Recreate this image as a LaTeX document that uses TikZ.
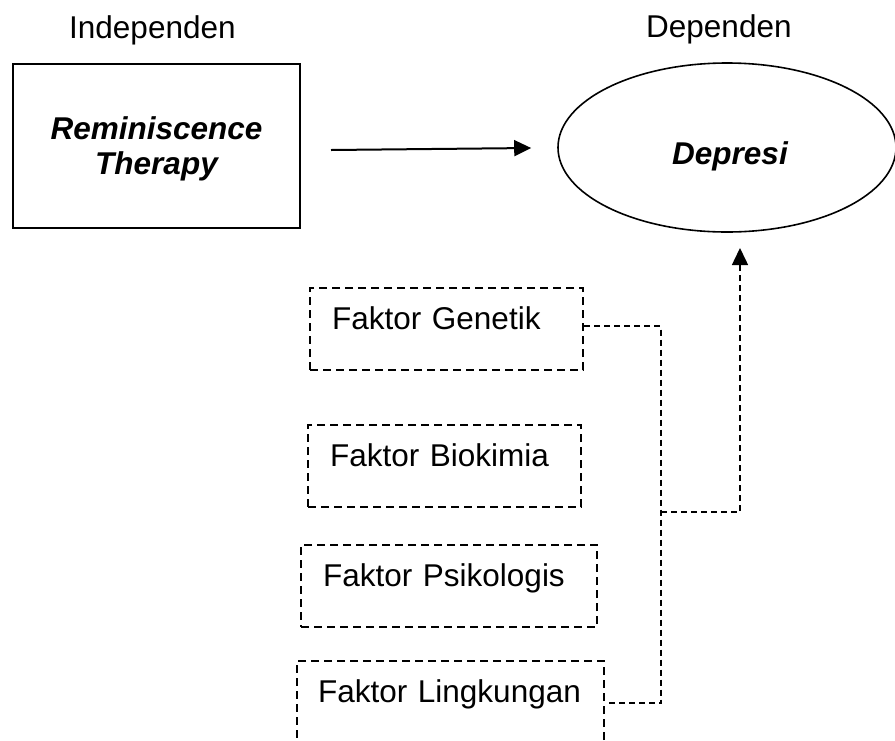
\documentclass[tikz,border=0pt]{standalone}
\usepackage{fontspec}
\setmainfont{Liberation Sans}
\usetikzlibrary{arrows.meta,shapes.geometric}
\begin{document}
\begin{tikzpicture}[x=1pt,y=-1pt,
  txt/.style={font=\fontsize{31.5}{35}\selectfont, inner sep=0pt},
  solidbox/.style={draw, line width=2pt, minimum width=287pt, minimum height=164pt,
    align=center, font=\fontsize{31.5}{35}\selectfont\bfseries\itshape,
    text depth=-3pt, inner sep=0pt},
  oval/.style={draw, ellipse, line width=1.6pt, minimum width=338pt, minimum height=169pt,
    inner sep=0pt, font=\fontsize{31.5}{35}\selectfont\bfseries\itshape},
  factor/.style={draw, line width=2.4pt, dash pattern=on 8pt off 5pt, anchor=north west,
    font=\fontsize{31.5}{35}\selectfont, align=left, inner xsep=22pt, inner ysep=18pt,
    text height=23pt, text depth=23pt},
  conn/.style={line width=1.5pt, dash pattern=on 6pt off 4pt},
  arr/.style={-{Triangle[length=17pt,width=16pt]}},
]
\clip (0,0) rectangle (895,740);
\useasboundingbox (0,0) rectangle (895,740);

\node[txt, anchor=base west] (ind) at (69,38) {Independen};
\node[txt, anchor=base west] (dpn) at (646,37) {Dependen};

\node[solidbox] (rt) at (156.5,146) {Reminiscence\\Therapy};
\node[oval] (dep) at (727,147.5) {\raisebox{-9pt}[\height][\depth]{\hspace*{6pt}Depresi}};

\draw[line width=2pt, arr] ([xshift=30pt,yshift=-4pt]rt.east) -- ([xshift=-26pt,yshift=-0.5pt]dep.west);

\node[factor, text width=229pt] (gen) at (309,287) {Faktor Genetik};
\node[factor, text width=229pt] (bio) at (307,424) {Faktor Biokimia};
\node[factor, text width=252pt] (psi) at (300,544) {Faktor Psikologis};
\node[factor, text width=265pt, inner xsep=21pt, text depth=25pt] (lin) at (296,660) {Faktor Lingkungan};

\coordinate (jx) at (661,512);
\coordinate (jt) at (740,512);
\coordinate (tip) at (740,248);

\draw[conn] ([yshift=3pt]gen.east) -| (jx) |- (lin.east);
\draw[conn, arr] (jx) -- (jt) -- (tip);
\end{tikzpicture}
\end{document}
